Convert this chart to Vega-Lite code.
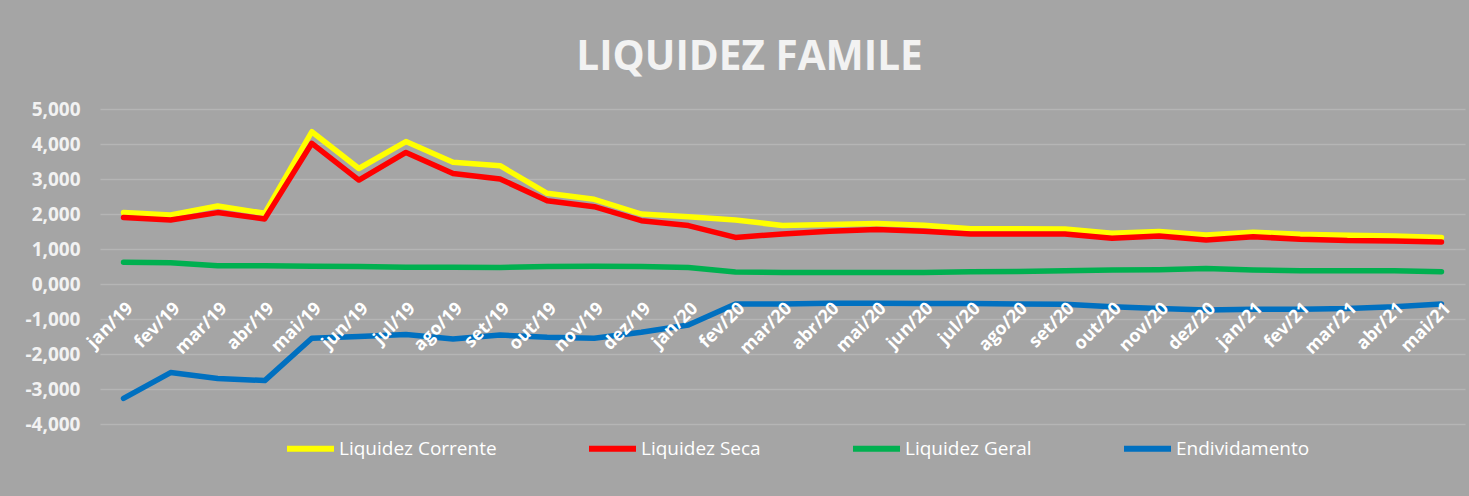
{
  "$schema": "https://vega.github.io/schema/vega-lite/v6.json",
  "width": 1365,
  "height": 315,
  "autosize": {"type": "none"},
  "padding": {"left": 100, "top": 109, "right": 4, "bottom": 72},
  "background": "#A5A5A5",
  "title": {
    "text": "LIQUIDEZ FAMILE",
    "font": "Open Sans",
    "fontSize": 40.5,
    "fontWeight": "bold",
    "color": "#F2F2F2",
    "anchor": "middle",
    "dx": -33,
    "offset": 22
  },
  "config": {
    "locale": {"number": {"decimal": ",", "thousands": ".", "grouping": [3], "currency": ["R$", ""], "minus": "-"}},
    "view": {"stroke": null}
  },
  "data": {
    "values": [
      {"mes": "jan/19", "Liquidez Corrente": 2.04, "Liquidez Seca": 1.90, "Liquidez Geral": 0.62, "Endividamento": -3.27},
      {"mes": "fev/19", "Liquidez Corrente": 1.97, "Liquidez Seca": 1.83, "Liquidez Geral": 0.61, "Endividamento": -2.53},
      {"mes": "mar/19", "Liquidez Corrente": 2.23, "Liquidez Seca": 2.04, "Liquidez Geral": 0.52, "Endividamento": -2.70},
      {"mes": "abr/19", "Liquidez Corrente": 2.02, "Liquidez Seca": 1.86, "Liquidez Geral": 0.52, "Endividamento": -2.76},
      {"mes": "mai/19", "Liquidez Corrente": 4.35, "Liquidez Seca": 4.02, "Liquidez Geral": 0.51, "Endividamento": -1.55},
      {"mes": "jun/19", "Liquidez Corrente": 3.30, "Liquidez Seca": 2.97, "Liquidez Geral": 0.50, "Endividamento": -1.50},
      {"mes": "jul/19", "Liquidez Corrente": 4.07, "Liquidez Seca": 3.76, "Liquidez Geral": 0.48, "Endividamento": -1.44},
      {"mes": "ago/19", "Liquidez Corrente": 3.48, "Liquidez Seca": 3.16, "Liquidez Geral": 0.48, "Endividamento": -1.57},
      {"mes": "set/19", "Liquidez Corrente": 3.38, "Liquidez Seca": 3.00, "Liquidez Geral": 0.47, "Endividamento": -1.46},
      {"mes": "out/19", "Liquidez Corrente": 2.59, "Liquidez Seca": 2.38, "Liquidez Geral": 0.50, "Endividamento": -1.52},
      {"mes": "nov/19", "Liquidez Corrente": 2.42, "Liquidez Seca": 2.21, "Liquidez Geral": 0.51, "Endividamento": -1.55},
      {"mes": "dez/19", "Liquidez Corrente": 2.00, "Liquidez Seca": 1.81, "Liquidez Geral": 0.50, "Endividamento": -1.38},
      {"mes": "jan/20", "Liquidez Corrente": 1.92, "Liquidez Seca": 1.67, "Liquidez Geral": 0.47, "Endividamento": -1.17},
      {"mes": "fev/20", "Liquidez Corrente": 1.83, "Liquidez Seca": 1.33, "Liquidez Geral": 0.34, "Endividamento": -0.57},
      {"mes": "mar/20", "Liquidez Corrente": 1.67, "Liquidez Seca": 1.43, "Liquidez Geral": 0.33, "Endividamento": -0.57},
      {"mes": "abr/20", "Liquidez Corrente": 1.70, "Liquidez Seca": 1.51, "Liquidez Geral": 0.33, "Endividamento": -0.55},
      {"mes": "mai/20", "Liquidez Corrente": 1.73, "Liquidez Seca": 1.56, "Liquidez Geral": 0.33, "Endividamento": -0.55},
      {"mes": "jun/20", "Liquidez Corrente": 1.68, "Liquidez Seca": 1.51, "Liquidez Geral": 0.33, "Endividamento": -0.56},
      {"mes": "jul/20", "Liquidez Corrente": 1.58, "Liquidez Seca": 1.43, "Liquidez Geral": 0.35, "Endividamento": -0.56},
      {"mes": "ago/20", "Liquidez Corrente": 1.58, "Liquidez Seca": 1.43, "Liquidez Geral": 0.36, "Endividamento": -0.57},
      {"mes": "set/20", "Liquidez Corrente": 1.57, "Liquidez Seca": 1.43, "Liquidez Geral": 0.38, "Endividamento": -0.58},
      {"mes": "out/20", "Liquidez Corrente": 1.45, "Liquidez Seca": 1.31, "Liquidez Geral": 0.40, "Endividamento": -0.65},
      {"mes": "nov/20", "Liquidez Corrente": 1.50, "Liquidez Seca": 1.37, "Liquidez Geral": 0.41, "Endividamento": -0.70},
      {"mes": "dez/20", "Liquidez Corrente": 1.40, "Liquidez Seca": 1.26, "Liquidez Geral": 0.44, "Endividamento": -0.74},
      {"mes": "jan/21", "Liquidez Corrente": 1.48, "Liquidez Seca": 1.35, "Liquidez Geral": 0.40, "Endividamento": -0.72},
      {"mes": "fev/21", "Liquidez Corrente": 1.42, "Liquidez Seca": 1.28, "Liquidez Geral": 0.38, "Endividamento": -0.72},
      {"mes": "mar/21", "Liquidez Corrente": 1.39, "Liquidez Seca": 1.24, "Liquidez Geral": 0.38, "Endividamento": -0.70},
      {"mes": "abr/21", "Liquidez Corrente": 1.37, "Liquidez Seca": 1.23, "Liquidez Geral": 0.38, "Endividamento": -0.65},
      {"mes": "mai/21", "Liquidez Corrente": 1.33, "Liquidez Seca": 1.20, "Liquidez Geral": 0.35, "Endividamento": -0.57}
    ]
  },
  "transform": [
    {"fold": ["Liquidez Corrente", "Liquidez Seca", "Liquidez Geral", "Endividamento"], "as": ["serie", "valor"]}
  ],
  "mark": {"type": "line", "strokeWidth": 5.5, "strokeCap": "round", "strokeJoin": "round"},
  "encoding": {
    "x": {
      "field": "mes",
      "type": "ordinal",
      "sort": null,
      "scale": {"type": "point", "padding": 0.5},
      "axis": {
        "title": null,
        "offset": -140,
        "zindex": 1,
        "labelAngle": -45,
        "labelFont": "Open Sans",
        "labelFontSize": 18,
        "labelFontWeight": "bold",
        "labelColor": "#FFFFFF",
        "labelPadding": 15,
        "labelOverlap": false,
        "labelBound": false,
        "ticks": false,
        "domain": false,
        "grid": false
      }
    },
    "y": {
      "field": "valor",
      "type": "quantitative",
      "scale": {"domain": [-4, 5], "nice": false, "zero": false},
      "axis": {
        "title": null,
        "values": [-4, -3, -2, -1, 0, 1, 2, 3, 4, 5],
        "format": ".3f",
        "labelFont": "Open Sans",
        "labelFontSize": 19,
        "labelFontWeight": "bold",
        "labelColor": "#F2F2F2",
        "labelPadding": 20,
        "ticks": false,
        "domain": false,
        "gridColor": "#B5B5B5",
        "gridWidth": 1.5
      }
    },
    "color": {
      "field": "serie",
      "type": "nominal",
      "scale": {
        "domain": ["Liquidez Corrente", "Liquidez Seca", "Liquidez Geral", "Endividamento"],
        "range": ["#FFFF00", "#FF0000", "#00B050", "#0070C0"]
      },
      "legend": {
        "title": null,
        "orient": "none",
        "legendX": 184,
        "legendY": 313,
        "direction": "horizontal",
        "columns": 4,
        "columnPadding": 80,
        "symbolType": "stroke",
        "symbolSize": 2209,
        "symbolStrokeWidth": 6,
        "labelFont": "Open Sans",
        "labelFontSize": 19,
        "labelColor": "#FFFFFF",
        "labelOffset": 2
      }
    }
  }
}
